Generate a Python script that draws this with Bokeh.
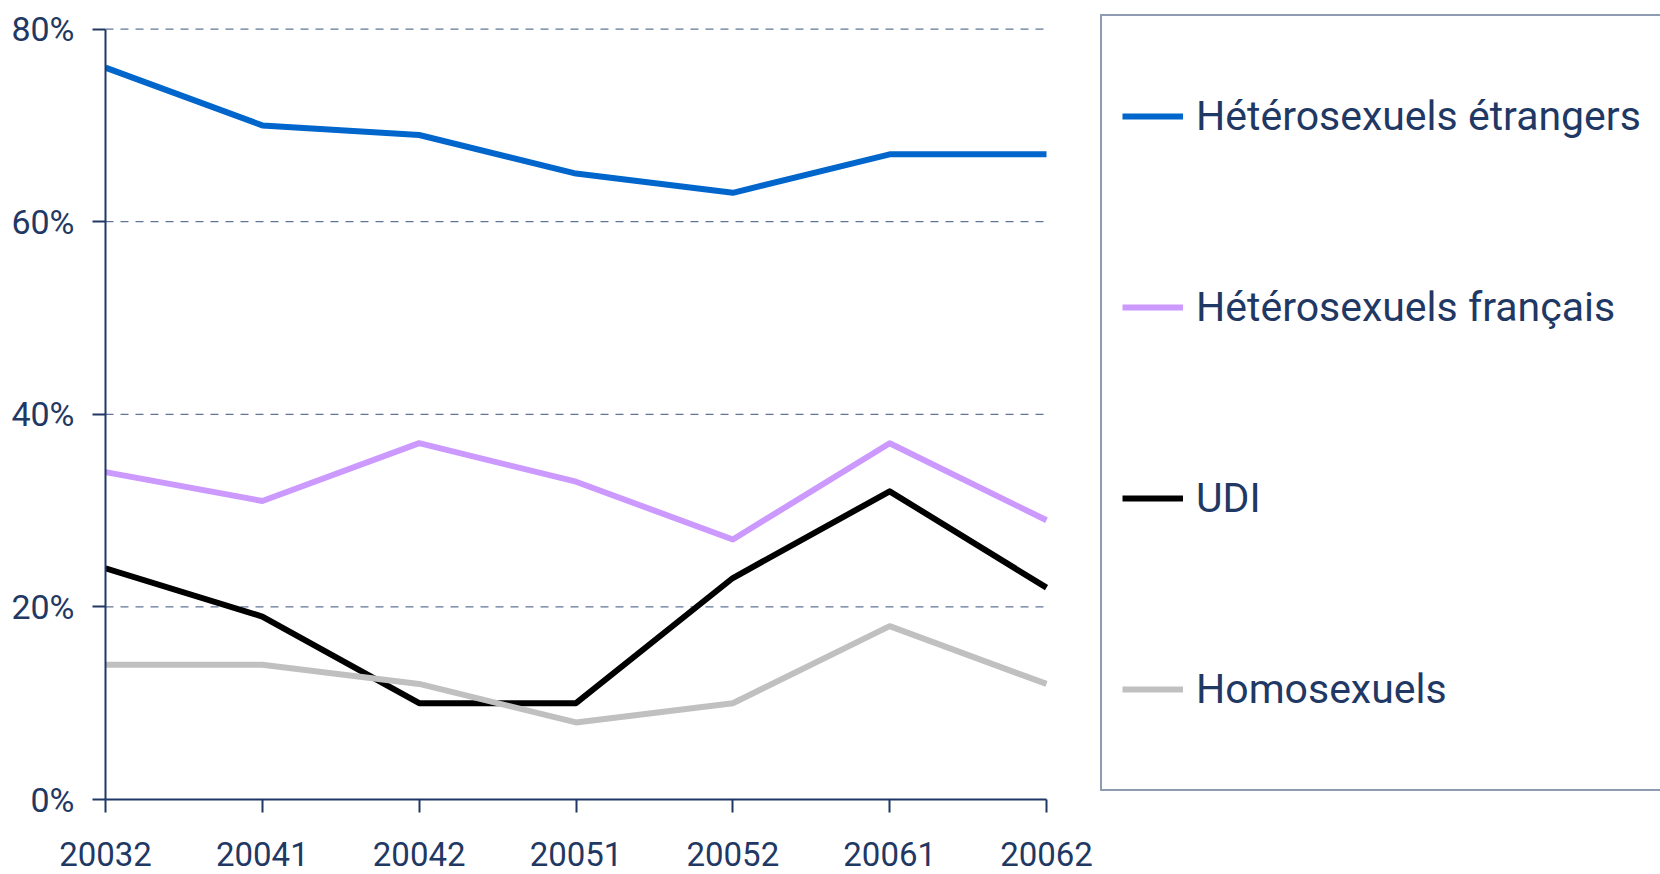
from bokeh.plotting import figure
from bokeh.models import Range1d, FixedTicker, Legend, LegendItem
from bokeh.embed import file_html
from bokeh.resources import INLINE

# ---- data ----
periods = ["20032", "20041", "20042", "20051", "20052", "20061", "20062"]
hetero_etrangers = [76, 70, 69, 65, 63, 67, 67]
hetero_francais = [34, 31, 37, 33, 27, 37, 29]
udi = [24, 19, 10, 10, 23, 32, 22]
homosexuels = [14, 14, 12, 8, 10, 18, 12]
y_ticks = [0, 20, 40, 60, 80]
y_tick_labels = ["0%", "20%", "40%", "60%", "80%"]
series_names = ["Hétérosexuels étrangers", "Hétérosexuels français", "UDI", "Homosexuels"]
series_values = [hetero_etrangers, hetero_francais, udi, homosexuels]
series_colors = ["#0066CC", "#CC99FF", "#000000", "#C0C0C0"]

# ---- layout ----
W, H = 1660, 874
border_left, border_top = 105, 8
zero_px = 799                  # canvas y of the 0% line
border_bottom = H - zero_px
plot_span_px = 941.0           # width between first and last period
frame_w = W - border_left
frame_h = H - border_top - border_bottom
x_idx = list(range(len(periods)))
x_last = x_idx[-1]
x_end = frame_w / (plot_span_px / x_last)
px_per_unit = 770.4 / y_ticks[-1]
y_end = frame_h / px_per_unit

NAVY = "#1F3864"
FONT = "Roboto"

p = figure(width=W, height=H, output_backend="svg", toolbar_location=None,
           x_range=Range1d(0, x_end), y_range=Range1d(0, y_end),
           min_border_left=border_left, min_border_right=0,
           min_border_top=border_top, min_border_bottom=border_bottom)
p.outline_line_color = None
p.background_fill_color = "white"
p.border_fill_color = "white"
p.xgrid.visible = False
p.ygrid.visible = False

# gridlines (dashed) between first and last period
grid_y = [t for t in y_ticks if t > 0]
p.segment(x0=[x_idx[0]] * len(grid_y), x1=[x_last] * len(grid_y), y0=grid_y, y1=grid_y,
          line_color="#3B5282", line_width=1, line_dash="8 7")

# series lines (first series underneath)
renderers = []
for name, vals, col in zip(series_names, series_values, series_colors):
    r = p.line(x_idx, vals, line_color=col, line_width=6, line_join="round")
    renderers.append(r)

# axes
xa = p.xaxis[0]
xa.ticker = FixedTicker(ticks=x_idx)
xa.major_label_overrides = {i: lab for i, lab in zip(x_idx, periods)}
xa.bounds = (x_idx[0], x_last)
xa.axis_line_color = NAVY
xa.axis_line_width = 2
xa.major_tick_line_color = NAVY
xa.major_tick_line_width = 2
xa.major_tick_in = 0
xa.major_tick_out = 13
xa.minor_tick_line_color = None
xa.major_label_standoff = 29
xa.major_label_text_font = FONT
xa.major_label_text_font_size = "33px"
xa.major_label_text_color = NAVY

ya = p.yaxis[0]
ya.ticker = FixedTicker(ticks=y_ticks)
ya.major_label_overrides = {t: lab for t, lab in zip(y_ticks, y_tick_labels)}
ya.bounds = (y_ticks[0], y_ticks[-1])
ya.axis_line_color = NAVY
ya.axis_line_width = 2
ya.major_tick_line_color = NAVY
ya.major_tick_line_width = 2
ya.major_tick_in = 0
ya.major_tick_out = 13
ya.minor_tick_line_color = None
ya.major_label_standoff = 18
ya.major_label_text_font = FONT
ya.major_label_text_font_size = "34px"
ya.major_label_text_color = NAVY

# legend
items = [LegendItem(label=n, renderers=[r]) for n, r in zip(series_names, renderers)]
legend = Legend(items=items, location=(995, 8), orientation="vertical",
                padding=20, spacing=31, margin=0,
                glyph_width=61, glyph_height=160, label_height=160,
                label_standoff=13, label_width=520,
                label_text_font=FONT, label_text_font_size="41px",
                label_text_color=NAVY, label_text_baseline="middle",
                border_line_color=NAVY, border_line_width=2,
                background_fill_color="white", background_fill_alpha=1.0)
p.add_layout(legend, "center")

open("out.html", "w").write(file_html(p, INLINE))
